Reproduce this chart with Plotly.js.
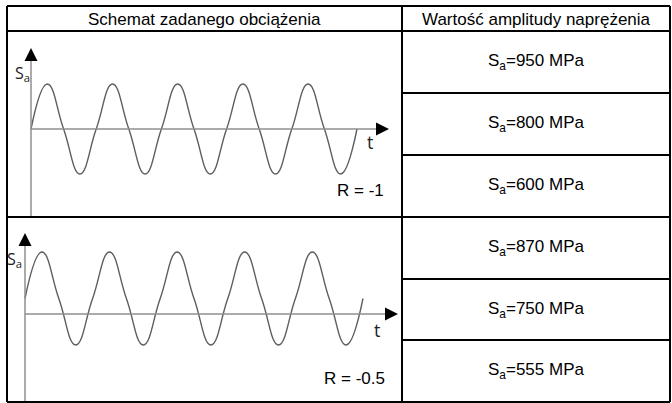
<!DOCTYPE html>
<html>
<head>
<meta charset="utf-8">
<script src="https://cdn.plot.ly/plotly-3.0.1.min.js"></script>
<style>
  html, body { margin: 0; padding: 0; background: #fff; }
  #myDiv { width: 672px; height: 403px; }
</style>
</head>
<body>
<div id="myDiv"></div>
<script>
// load schematics: key points every quarter cycle (time in cycles, stress / Smax)
var tCycles = [0, 0.25, 0.5, 0.75, 1, 1.25, 1.5, 1.75, 2, 2.25, 2.5, 2.75, 3,
               3.25, 3.5, 3.75, 4, 4.25, 4.5, 4.75, 5];
var stressR1 = [0, 1, 0, -1, 0, 1, 0, -1, 0, 1, 0, -1, 0, 1, 0, -1, 0, 1, 0, -1, 0];
var stressR05 = [0.25, 1, 0.25, -0.5, 0.25, 1, 0.25, -0.5, 0.25, 1, 0.25, -0.5, 0.25,
                 1, 0.25, -0.5, 0.25, 1, 0.25, -0.5, 0.25];
var ratioLabels = ['R = -1', 'R = -0.5'];

// table
var headers = ['Schemat zadanego obciążenia', 'Wartość amplitudy naprężenia'];
var amplitudes = [950, 800, 600, 870, 750, 555];
var unit = 'MPa';

var W = 672, H = 403;
var font = 'Liberation Sans, Arial, sans-serif';
var fontSize = 17;
var axisGrey = '#8f8f8f';
var waveGrey = '#5e5e5e';

function px(x) { return x / W; }
function py(y) { return 1 - y / H; }

// pixel placement of the two schematics
var panels = [
  {box: [20, 396, 38, 217], t0: 31, cyc: 65.2, zero: 129, unit: 45,
   yTip: 48, xTip: 389, yEnd: 217, sa: [22, 73], t: [370, 142], r: [386, 191]},
  {box: [13, 401, 225, 402], t0: 25, cyc: 67.6, zero: 314, unit: 62,
   yTip: 233, xTip: 398, yEnd: 402, sa: [14, 259], t: [377, 330], r: [387, 378]}
];
var series = [stressR1, stressR05];

var data = [];
var layout = {
  width: W, height: H,
  margin: {l: 0, r: 0, t: 0, b: 0},
  paper_bgcolor: '#fff', plot_bgcolor: 'rgba(0,0,0,0)',
  showlegend: false,
  shapes: [], annotations: []
};

function label(x, y, text, anchor, f) {
  layout.annotations.push({xref: 'paper', yref: 'paper', x: px(x), y: py(y),
    text: text, showarrow: false, xanchor: anchor, yanchor: 'middle', font: f});
}

panels.forEach(function (p, i) {
  var sfx = i === 0 ? '' : '2';
  var xa = 'x' + sfx, ya = 'y' + sfx;
  function tx(xpx) { return (xpx - p.t0) / p.cyc; }
  function sy(ypx) { return (p.zero - ypx) / p.unit; }

  data.push({
    type: 'scatter', mode: 'lines',
    x: tCycles, y: series[i],
    xaxis: xa, yaxis: ya,
    line: {color: waveGrey, width: 1.4, shape: 'spline', smoothing: 1.3},
    hoverinfo: 'skip'
  });

  var ax = {domain: [px(p.box[0]), px(p.box[1])], range: [tx(p.box[0]), tx(p.box[1])],
            visible: false, fixedrange: true};
  var ay = {domain: [py(p.box[3]), py(p.box[2])], range: [sy(p.box[3]), sy(p.box[2])],
            visible: false, fixedrange: true};
  if (i > 0) { ax.anchor = ya; ay.anchor = xa; }
  layout['xaxis' + sfx] = ax;
  layout['yaxis' + sfx] = ay;

  // axes of the schematic
  layout.shapes.push({type: 'line', xref: xa, yref: ya, x0: 0, x1: 0,
    y0: sy(p.yEnd), y1: sy(p.yTip + 6), line: {color: axisGrey, width: 1.5}});
  layout.shapes.push({type: 'line', xref: xa, yref: ya, x0: 0, x1: tx(p.xTip - 6),
    y0: 0, y1: 0, line: {color: axisGrey, width: 1.5}});
  layout.annotations.push({xref: xa, yref: ya, x: 0, y: sy(p.yTip), ax: 0, ay: 12,
    text: '', showarrow: true, arrowhead: 2, arrowsize: 1.3, arrowwidth: 2, arrowcolor: '#000'});
  layout.annotations.push({xref: xa, yref: ya, x: tx(p.xTip), y: 0, ax: -12, ay: 0,
    text: '', showarrow: true, arrowhead: 2, arrowsize: 1.3, arrowwidth: 2, arrowcolor: '#000'});

  label(p.sa[0], p.sa[1], 'S<sub>a</sub>', 'center',
        {family: 'Open Sans, sans-serif', size: 16, color: '#222'});
  label(p.t[0], p.t[1], 't', 'center',
        {family: 'Open Sans, sans-serif', size: 18, color: '#222'});
  label(p.r[0], p.r[1], ratioLabels[i], 'right',
        {family: font, size: fontSize, color: '#000'});
});

// table grid
var gLeft = 7, gRight = 670, gTop = 6, gBottom = 402, gSplit = 402, gHead = 31, gMid = 217;
var rowLines = [93, 155, 217, 279, 340];
function hline(y, x0, x1) {
  layout.shapes.push({type: 'line', xref: 'paper', yref: 'paper', x0: px(x0), x1: px(x1),
    y0: py(y), y1: py(y), line: {color: '#000', width: 2}});
}
function vline(x, y0, y1) {
  layout.shapes.push({type: 'line', xref: 'paper', yref: 'paper', x0: px(x), x1: px(x),
    y0: py(y0), y1: py(y1), line: {color: '#000', width: 2}});
}
hline(gTop, gLeft, gRight);
hline(gHead, gLeft, gRight);
hline(gMid, gLeft, gRight);
hline(gBottom, gLeft, gRight);
rowLines.forEach(function (y) { if (y !== gMid) hline(y, gSplit, gRight); });
vline(gLeft, gTop, gBottom);
vline(gSplit, gTop, gBottom);
vline(gRight, gTop, gBottom);

var cellFont = {family: font, size: fontSize, color: '#000'};
label((gLeft + gSplit) / 2, 19, headers[0], 'center', cellFont);
label((gSplit + gRight) / 2, 19, headers[1], 'center', cellFont);

var rowEdges = [gHead].concat(rowLines, [gBottom]);
amplitudes.forEach(function (a, k) {
  label((gSplit + gRight) / 2, (rowEdges[k] + rowEdges[k + 1]) / 2,
        'S<sub>a</sub>=' + a + ' ' + unit, 'center', cellFont);
});

Plotly.newPlot('myDiv', data, layout, {staticPlot: true, displayModeBar: false});
</script>
</body>
</html>
